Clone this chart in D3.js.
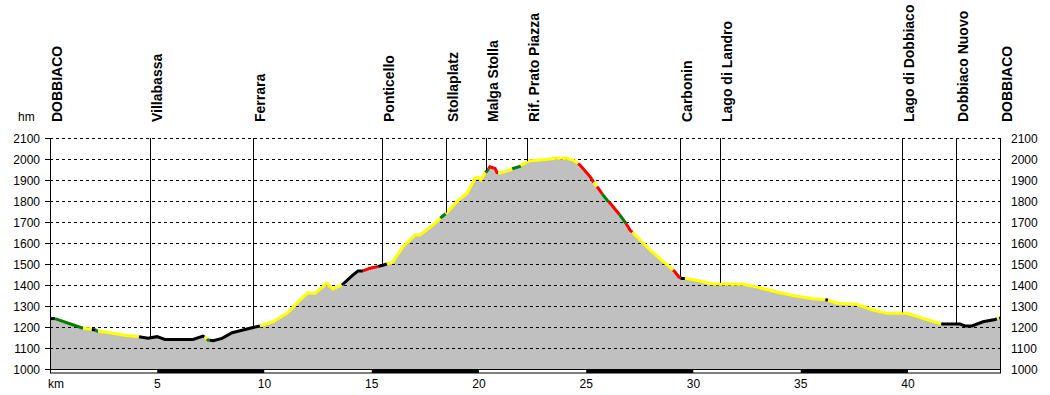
<!DOCTYPE html>
<html>
<head>
<meta charset="utf-8">
<script src="https://cdn.jsdelivr.net/npm/d3@7"></script>
<style>
  body { margin: 0; background: #fff; }
  svg { display: block; font-family: Arial, "Liberation Sans", sans-serif; }
</style>
</head>
<body>
<div id="chart"></div>
<script>
// profile: distance (km) and altitude (m)
const km = [0, 0.23, 1.54, 1.86, 2.10, 2.19, 2.80, 3.40, 4.15, 4.57, 4.99, 5.36, 6.67, 7.13, 7.27, 7.37,
  7.60, 8.02, 8.49, 8.86, 9.32, 9.79, 10.40, 11.05, 11.66, 12.03, 12.35, 12.91, 13.19, 13.61, 14.13,
  14.36, 14.59, 14.92, 15.24, 15.48, 15.71, 15.99, 16.46, 17.02, 17.25, 17.86, 18.27, 18.46, 18.97,
  19.44, 19.81, 19.95, 20.09, 20.28, 20.37, 20.51, 20.75, 20.84, 20.98, 21.45, 21.59, 21.91, 22.05,
  22.38, 22.84, 23.64, 24.10, 24.38, 24.57, 24.71, 25.03, 25.17, 25.41, 25.55, 25.78, 25.97, 26.11,
  26.43, 26.57, 26.81, 26.90, 27.04, 27.37, 27.51, 27.97, 28.53, 28.90, 29.14, 29.32, 29.46, 29.70,
  30.30, 30.77, 32.31, 32.96, 34.03, 34.83, 35.57, 36.22, 36.69, 37.62, 38.37, 39.02, 39.95, 40.70,
  41.49, 41.63, 42.42, 42.66, 42.98, 43.50, 44.06, 44.20, 44.29];
const alt = [1240, 1240, 1194, 1190, 1186, 1181, 1173, 1162, 1154, 1146, 1154, 1141, 1141, 1157, 1148, 1138,
  1135, 1146, 1173, 1182, 1194, 1205, 1225, 1265, 1329, 1363, 1360, 1408, 1381, 1400, 1448,
  1467, 1467, 1480, 1487, 1493, 1500, 1511, 1582, 1638, 1638, 1686, 1725, 1740, 1797,
  1836, 1908, 1913, 1900, 1933, 1943, 1963, 1955, 1935, 1933, 1948, 1955, 1965, 1976,
  1992, 1995, 2003, 2003, 1995, 1982, 1971, 1933, 1917, 1879, 1862, 1829, 1805, 1790,
  1750, 1733, 1700, 1686, 1662, 1630, 1614, 1567, 1517, 1485, 1462, 1438, 1431, 1431,
  1419, 1406, 1403, 1390, 1363, 1346, 1335, 1329, 1313, 1308, 1281, 1265, 1265, 1241,
  1217, 1214, 1214, 1205, 1205, 1225, 1236, 1241, 1243];

// gradient classes along the track
const segFrom = [0, 0.23, 1.54, 1.95, 2.12, 2.25, 4.15, 7.20, 7.32, 7.45, 9.79, 13.61, 14.59, 15.30,
  15.71, 18.20, 18.45, 20.30, 20.45, 20.90, 21.55, 21.95, 24.62, 25.35, 25.50, 25.75, 26.05, 26.55,
  26.85, 27.15, 29.05, 29.40, 29.60, 36.15, 36.27, 41.55, 44.15, 44.25];
const segClass = ['k', 'g', 'y', 'k', 'g', 'y', 'k', 'y', 'g', 'k', 'y', 'k', 'r', 'k',
  'y', 'g', 'y', 'g', 'r', 'y', 'g', 'y', 'r', 'y', 'r', 'g', 'r', 'g',
  'r', 'y', 'r', 'k', 'y', 'k', 'y', 'k', 'y', 'k'];
const classColor = { k: '#000000', g: '#008000', y: '#ffff00', r: '#ff0000' };

const placeNames = ['DOBBIACO', 'Villabassa', 'Ferrara', 'Ponticello', 'Stollaplatz', 'Malga Stolla',
  'Rif. Prato Piazza', 'Carbonin', 'Lago di Landro', 'Lago di Dobbiaco', 'Dobbiaco Nuovo', 'DOBBIACO'];
const placeKm = [0, 4.66, 9.46, 15.48, 18.46, 20.33, 22.24, 29.37, 31.24, 39.72, 42.24, 44.29];

const altTicks = [1000, 1100, 1200, 1300, 1400, 1500, 1600, 1700, 1800, 1900, 2000, 2100];
const kmTicks = [5, 10, 15, 20, 25, 30, 35, 40];

const width = 1050;
const height = 395;
const kmMax = km[km.length - 1];

const x = d3.scaleLinear().domain([0, kmMax]).range([50, 1000]);
const y = d3.scaleLinear().domain([1000, 2100]).range([369, 138]);

const pts = km.map((d, i) => [d, alt[i]]);
const altAt = (k) => {
  const i = Math.max(1, d3.bisectLeft(km, k));
  const t = (k - km[i - 1]) / (km[i] - km[i - 1]);
  return alt[i - 1] + t * (alt[i] - alt[i - 1]);
};

const svg = d3.select('#chart').append('svg')
  .attr('width', width)
  .attr('height', height);

// filled profile
svg.append('path')
  .datum(pts)
  .attr('fill', '#c0c0c0')
  .attr('d', d3.area().x(d => x(d[0])).y0(y(1000)).y1(d => y(d[1])));

// dashed grid
svg.append('g')
  .selectAll('line')
  .data(altTicks.slice(1))
  .join('line')
  .attr('x1', x(0))
  .attr('x2', x(kmMax))
  .attr('y1', d => Math.round(y(d)) + 0.5)
  .attr('y2', d => Math.round(y(d)) + 0.5)
  .attr('stroke', '#000')
  .attr('stroke-dasharray', '3,3');

// coloured track line
const line = d3.line().x(d => x(d[0])).y(d => y(d[1]));
segFrom.forEach((a, i) => {
  const b = i < segFrom.length - 1 ? segFrom[i + 1] : kmMax;
  const seg = [[a, altAt(a)]].concat(pts.filter(p => p[0] > a && p[0] < b), [[b, altAt(b)]]);
  svg.append('path')
    .datum(seg)
    .attr('fill', 'none')
    .attr('stroke', classColor[segClass[i]])
    .attr('stroke-width', 3)
    .attr('d', line);
});

// waypoint lines and names
const places = svg.append('g')
  .selectAll('g')
  .data(placeNames.map((n, i) => ({ name: n, km: placeKm[i] })))
  .join('g');

places.append('line')
  .attr('x1', d => Math.round(x(d.km)) + 0.5)
  .attr('x2', d => Math.round(x(d.km)) + 0.5)
  .attr('y1', y(2100))
  .attr('y2', d => y(altAt(d.km)) - 1)
  .attr('stroke', '#000');

places.append('text')
  .attr('transform', d => `translate(${x(d.km) + 12},122) rotate(-90)`)
  .attr('font-size', 14)
  .attr('font-weight', 'bold')
  .text(d => d.name);

// frame
const axes = svg.append('g').attr('stroke', '#000');
axes.append('line').attr('x1', 50.5).attr('x2', 50.5).attr('y1', y(2100)).attr('y2', 373);
axes.append('line').attr('x1', 1000.5).attr('x2', 1000.5).attr('y1', y(2100)).attr('y2', 373);
axes.selectAll('.tl').data(altTicks).join('line')
  .attr('x1', 45).attr('x2', 50)
  .attr('y1', d => Math.round(y(d)) + 0.5).attr('y2', d => Math.round(y(d)) + 0.5);

// kilometre bar along the bottom
const bands = d3.range(0, kmMax, 5);
svg.append('g')
  .selectAll('rect')
  .data(bands)
  .join('rect')
  .attr('x', d => x(d))
  .attr('width', d => x(Math.min(d + 5, kmMax)) - x(d))
  .attr('y', 369)
  .attr('height', 4)
  .attr('fill', (d, i) => (i % 2 ? '#000' : '#fff'));
svg.append('rect')
  .attr('x', 50.5).attr('y', 369.5).attr('width', 950).attr('height', 3.5)
  .attr('fill', 'none').attr('stroke', '#000');

// tick labels
svg.append('g')
  .attr('font-size', 12)
  .attr('text-anchor', 'end')
  .selectAll('text')
  .data(altTicks)
  .join('text')
  .attr('x', 40)
  .attr('y', d => y(d) + 4.5)
  .text(d => d);

svg.append('g')
  .attr('font-size', 12)
  .selectAll('text')
  .data(altTicks)
  .join('text')
  .attr('x', 1011)
  .attr('y', d => y(d) + 4.5)
  .text(d => d);

svg.append('g')
  .attr('font-size', 12)
  .attr('text-anchor', 'middle')
  .selectAll('text')
  .data(kmTicks)
  .join('text')
  .attr('x', d => x(d))
  .attr('y', 388)
  .text(d => d);

svg.append('text').attr('x', 48).attr('y', 388).attr('font-size', 12).text('km');
svg.append('text').attr('x', 18).attr('y', 121).attr('font-size', 12).text('hm');
</script>
</body>
</html>
